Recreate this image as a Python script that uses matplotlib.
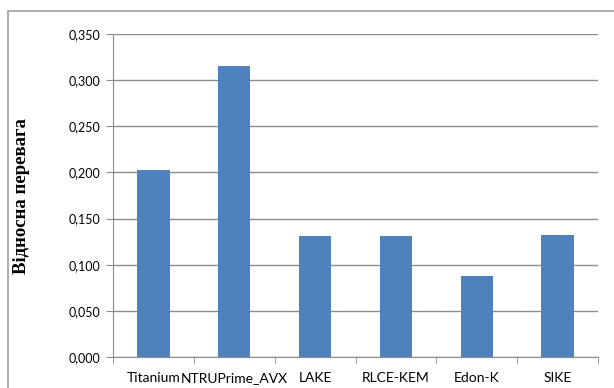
import numpy as np
import matplotlib.pyplot as plt
from matplotlib.patches import Rectangle
from matplotlib.ticker import FuncFormatter

schemes = ["Titanium", "NTRUPrime_AVX", "LAKE", "RLCE-KEM", "Edon-K", "SIKE"]
advantage = [0.203, 0.315, 0.131, 0.131, 0.088, 0.132]
y_ticks = [0.0, 0.05, 0.10, 0.15, 0.20, 0.25, 0.30, 0.35]

plt.rcParams["font.family"] = ["Lato", "DejaVu Sans"]

fig = plt.figure(figsize=(6.14, 3.88), dpi=100)

# chart area frame (runs off the right and bottom edges)
fig.patches.append(Rectangle((8 / 614, -0.05), 1.0, 1 - 11 / 388 + 0.05,
                             transform=fig.transFigure, fill=False,
                             edgecolor="#a0a0a0", linewidth=1.2))

ax = fig.add_axes([113 / 614, 1 - 357 / 388, 485 / 614, 323 / 388])
x = np.arange(len(schemes))
ax.bar(x, advantage, width=0.4, color="#4f81bd", zorder=3)

ax.set_xlim(-0.5, len(schemes) - 0.5)
ax.set_ylim(0, 0.35)
ax.set_yticks(y_ticks)
ax.yaxis.set_major_formatter(FuncFormatter(lambda v, p: f"{v:.3f}".replace(".", ",")))
ax.grid(axis="y", color="#8c8c8c", linewidth=1.0, zorder=0)

# category labels centred, tick marks between categories
ax.set_xticks(x)
ax.set_xticklabels(schemes)
ax.set_xticks(np.arange(-0.5, len(schemes)), minor=True)
ax.tick_params(axis="x", which="major", length=0, pad=11, labelsize=10)
ax.tick_params(axis="x", which="minor", length=5, color="#8c8c8c")
ax.tick_params(axis="y", length=5, color="#8c8c8c", labelsize=9, pad=4)

for side in ["top", "right"]:
    ax.spines[side].set_visible(False)
for side in ["left", "bottom"]:
    ax.spines[side].set_color("#8c8c8c")

fig.text(22 / 614, 1 - 196 / 388, "Відносна перевага", rotation=90,
         ha="center", va="center", fontsize=13.5, fontweight="bold",
         family="Liberation Serif")

fig.savefig("out.png", dpi=100)
